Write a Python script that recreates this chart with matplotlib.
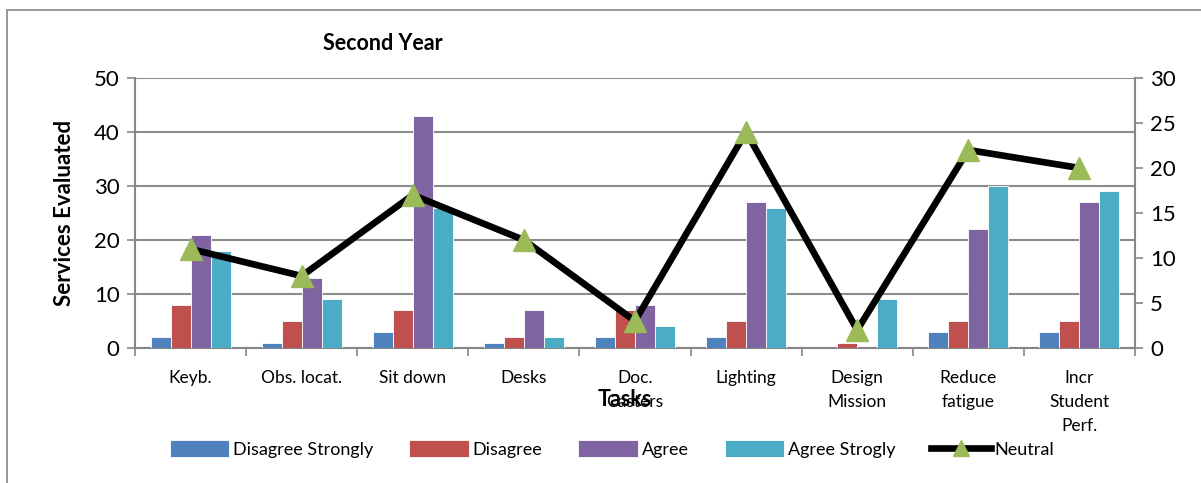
import matplotlib
matplotlib.use("Agg")
import matplotlib.pyplot as plt
from matplotlib.patches import Rectangle
from matplotlib.lines import Line2D
import numpy as np

plt.rcParams['font.family'] = ['Lato', 'DejaVu Sans']

tasks = ["Keyb.", "Obs. locat.", "Sit down", "Desks", "Doc.\nCasters",
         "Lighting", "Design\nMission", "Reduce\nfatigue", "Incr\nStudent\nPerf."]
disagree_strongly = [2, 1, 3, 1, 2, 2, 0, 3, 3]
disagree = [8, 5, 7, 2, 7, 5, 1, 5, 5]
agree = [21, 13, 43, 7, 8, 27, 0, 22, 27]
agree_strongly = [18, 9, 26, 2, 4, 26, 9, 30, 29]
neutral = [11, 8, 17, 12, 3, 24, 2, 22, 20]

series = [("Disagree Strongly", disagree_strongly, "#4F81BD"),
          ("Disagree", disagree, "#C0504D"),
          ("Agree", agree, "#8064A2"),
          ("Agree Strogly", agree_strongly, "#4BACC6")]

fig = plt.figure(figsize=(12.01, 4.83), dpi=100)
ax = fig.add_axes([135 / 1201, 1 - 348 / 483, 1000 / 1201, 270 / 483])

# frame around the whole chart
fig.patches.append(Rectangle((7 / 1201, -0.01), 1.2, 1 - 10 / 483 + 0.01,
                             transform=fig.transFigure, fill=False,
                             edgecolor="#868686", linewidth=1.2))

x = np.arange(len(tasks))
bw = 0.18
offsets = [-1.5, -0.5, 0.5, 1.5]
handles = []
for (name, vals, col), off in zip(series, offsets):
    b = ax.bar(x + off * bw, vals, width=bw, color=col, edgecolor="white",
               linewidth=0.6, zorder=3, label=name)
    handles.append(b)

ax.set_xlim(-0.5, len(tasks) - 0.5)
ax.set_ylim(0, 50)
ax.set_yticks(range(0, 51, 10))
ax.yaxis.grid(True, color="#8c8c8c", linewidth=1.5, zorder=0)
ax.set_axisbelow(True)
ax.set_xticks(np.arange(-0.5, len(tasks), 1.0))
ax.set_xticklabels([])
ax.set_xticks(x, minor=True)
ax.set_xticklabels(tasks, minor=True, fontsize=12.5, va="top", linespacing=1.6)
ax.tick_params(axis="x", which="minor", length=0, pad=16)
ax.tick_params(axis="x", which="major", length=6, color="#868686", width=1.2)
ax.tick_params(axis="y", labelsize=16, length=6, color="#868686", width=1.2, pad=5)
for s in ["top", "right"]:
    ax.spines[s].set_visible(False)
for s in ["left", "bottom"]:
    ax.spines[s].set_color("#868686")
    ax.spines[s].set_linewidth(1.5)

ax2 = ax.twinx()
ln, = ax2.plot(x, neutral, color="black", linewidth=4.8, marker="^",
               markersize=16, markerfacecolor="#9BBB59", markeredgecolor="#9BBB59",
               zorder=5, label="Neutral")
ax2.set_ylim(0, 30)
ax2.set_yticks(range(0, 31, 5))
ax2.tick_params(axis="y", labelsize=16, length=6, color="#868686", width=1.2, pad=5)
for s in ["top", "left", "bottom"]:
    ax2.spines[s].set_visible(False)
ax2.spines["right"].set_color("#868686")
ax2.spines["right"].set_linewidth(1.5)

ax.set_ylabel("Services Evaluated", fontsize=16, fontweight="bold", labelpad=14)
fig.text(383 / 1201, 1 - 44 / 483, "Second Year", fontsize=15.5, fontweight="bold",
         ha="center", va="center")
fig.text(625 / 1201, 1 - 400 / 483, "Tasks", fontsize=15.5, fontweight="bold",
         ha="center", va="center")

leg_handles = handles + [Line2D([0], [0], color="black", linewidth=4.8, marker="^",
                                markersize=12, markerfacecolor="#9BBB59",
                                markeredgecolor="#9BBB59")]
fig.legend(leg_handles, [s[0] for s in series] + ["Neutral"], loc="center",
           bbox_to_anchor=(612 / 1201, 1 - 449 / 483), ncol=5, frameon=False,
           fontsize=13, handlelength=3.3, handleheight=1.0, columnspacing=2.0,
           handletextpad=0.2)

fig.savefig("out.png", dpi=100)
